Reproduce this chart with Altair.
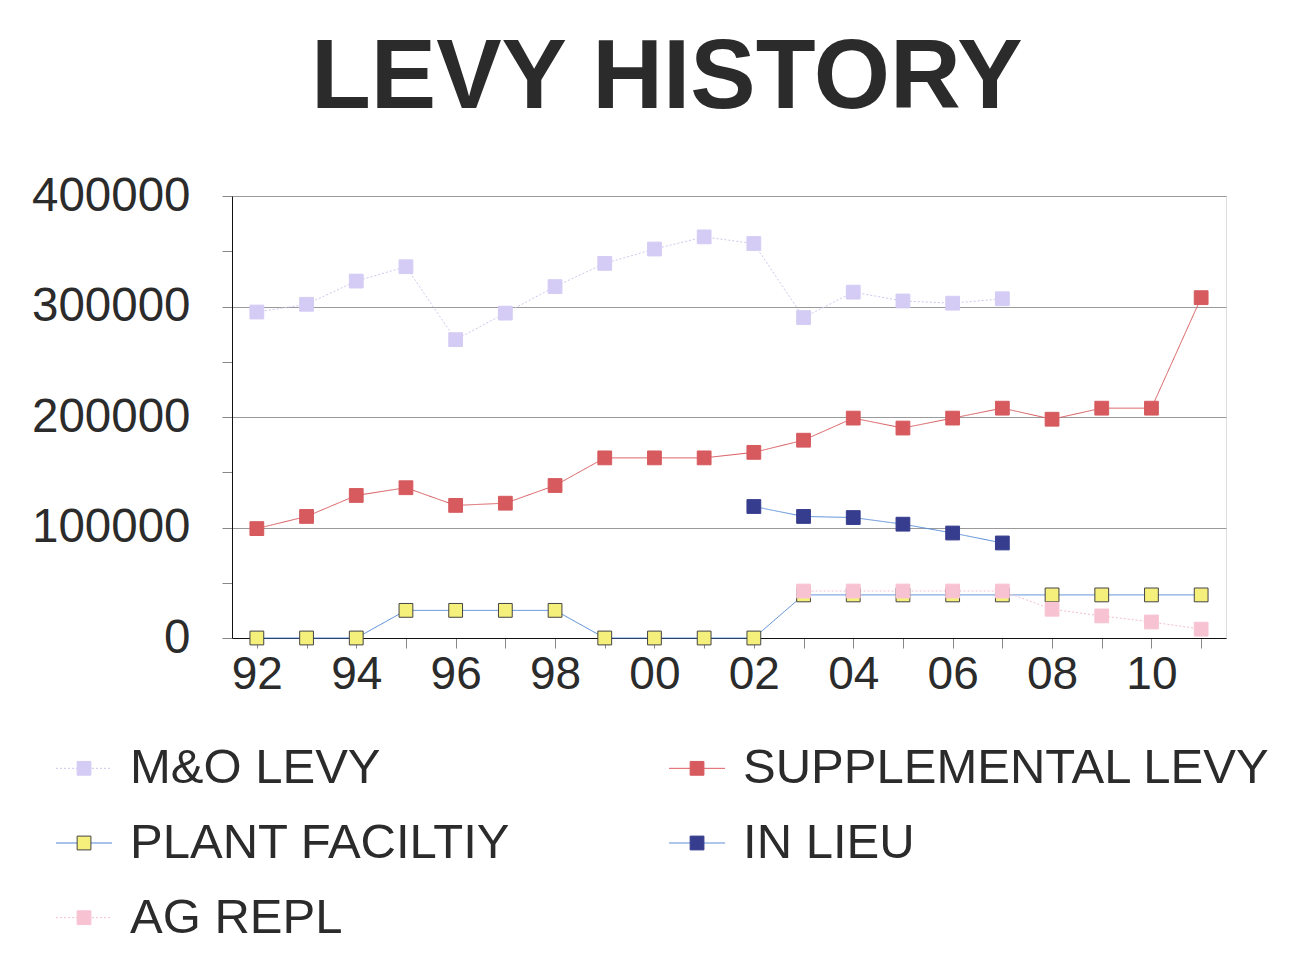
import altair as alt
import pandas as pd

years = list(range(1992, 2012))
series_names = ["M&O LEVY", "SUPPLEMENTAL LEVY", "PLANT FACILTIY", "IN LIEU", "AG REPL"]

mo_levy = [295000, 302000, 323000, 336000, 270000, 294000, 318000, 339000, 352000, 363000,
           357000, 290000, 313000, 305000, 303000, 307000, None, None, None, None]
supplemental = [99000, 110000, 129000, 136000, 120000, 122000, 138000, 163000, 163000, 163000,
                168000, 179000, 199000, 190000, 199000, 208000, 198000, 208000, 208000, 308000]
plant = [0, 0, 0, 25000, 25000, 25000, 25000, 0, 0, 0,
         0, 39000, 39000, 39000, 39000, 39000, 39000, 39000, 39000, 39000]
in_lieu = [None] * 10 + [119000, 110000, 109000, 103000, 95000, 86000, None, None, None, None]
ag_repl = [None] * 11 + [42500, 42500, 42500, 42500, 42500, 26000, 20000, 14500, 8000]

values = [mo_levy, supplemental, plant, in_lieu, ag_repl]

line_colors = ["#cfc6ee", "#d9585c", "#4f86d9", "#5b8fd8", "#f3bfd0"]
fill_colors = ["#d4ccf4", "#d65a5e", "#f5f07c", "#363d8e", "#f7c3d3"]
edge_colors = ["#d4ccf4", "#d65a5e", "#444444", "#363d8e", "#f7c3d3"]
dashes = [[2, 2], [1, 0], [1, 0], [1, 0], [2, 2]]

rows = []
for name, vals in zip(series_names, values):
    for y, v in zip(years, vals):
        if v is not None:
            rows.append({"series": name, "year": y, "value": v})
df = pd.DataFrame(rows)

FONT = "Liberation Sans"
TXT = "#2b2b2b"

color_scale = alt.Scale(domain=series_names, range=line_colors)
fill_scale = alt.Scale(domain=series_names, range=fill_colors)
stroke_scale = alt.Scale(domain=series_names, range=edge_colors)
dash_scale = alt.Scale(domain=series_names, range=dashes)

x_enc = alt.X(
    "year:Q",
    scale=alt.Scale(domain=[1991.5, 2011.5], nice=False, zero=False),
    axis=alt.Axis(
        values=years,
        labelExpr="datum.value % 2 == 0 ? substring(toString(datum.value), 2, 4) : ''",
        title=None, grid=False, tickSize=10, tickColor="#888888",
        labelFontSize=46, labelFont=FONT, labelColor=TXT, labelPadding=4,
        domainColor="#111111", labelFlush=False,
    ),
)
y_enc = alt.Y(
    "value:Q",
    scale=alt.Scale(domain=[0, 400000], nice=False),
    axis=alt.Axis(
        values=list(range(0, 400001, 50000)),
        labelExpr="datum.value % 100000 == 0 ? datum.value : ''",
        title=None, tickSize=10, tickColor="#888888",
        grid=True,
        gridOpacity={"condition": {"test": "datum.value % 100000 == 0 && datum.value > 0", "value": 1}, "value": 0},
        gridColor="#9a9a9a", gridWidth=1,
        labelFontSize=47.5, labelFont=FONT, labelColor=TXT, labelPadding=32,
        domainColor="#111111", labelFlush=False,
    ),
)

lines = alt.Chart(df).mark_line(strokeWidth=1).encode(
    x=x_enc, y=y_enc,
    color=alt.Color("series:N", scale=color_scale, legend=None),
    strokeDash=alt.StrokeDash("series:N", scale=dash_scale, legend=None),
    detail="series:N",
)
points = alt.Chart(df).mark_square(size=190, opacity=1, strokeWidth=1).encode(
    x=x_enc, y=y_enc,
    fill=alt.Fill("series:N", scale=fill_scale, legend=None),
    stroke=alt.Stroke("series:N", scale=stroke_scale, legend=None),
)

main = alt.layer(lines, points).properties(width=994, height=442)

# legend panel
leg_col = [0, 1, 0, 1, 0]
leg_row = [0, 0, 1, 1, 2]
leg = pd.DataFrame({"series": series_names, "col": leg_col, "row": leg_row})

lx = alt.X("col:Q", scale=alt.Scale(domain=[0.2414, 1.8629], nice=False, zero=False), axis=None)
ly = alt.Y("row:Q", scale=alt.Scale(domain=[-0.5, 2.5], nice=False, zero=False, reverse=True), axis=None)

leg_lines = alt.Chart(leg).mark_rule(strokeWidth=1, xOffset=-28, x2Offset=28).encode(
    x=lx, x2="col:Q", y=ly,
    color=alt.Color("series:N", scale=color_scale, legend=None),
    strokeDash=alt.StrokeDash("series:N", scale=dash_scale, legend=None),
)
leg_pts = alt.Chart(leg).mark_square(size=190, opacity=1, strokeWidth=1).encode(
    x=lx, y=ly,
    fill=alt.Fill("series:N", scale=fill_scale, legend=None),
    stroke=alt.Stroke("series:N", scale=stroke_scale, legend=None),
)
leg_text = alt.Chart(leg).mark_text(
    align="left", baseline="middle", dx=46, fontSize=49, font=FONT, color=TXT
).encode(x=lx, y=ly, text="series:N")

legend_panel = alt.layer(leg_lines, leg_pts, leg_text).properties(
    width=994, height=224, view=alt.ViewBackground(strokeOpacity=0)
)

chart = alt.vconcat(main, legend_panel, spacing=33).properties(
    title=alt.TitleParams(
        "LEVY HISTORY", fontSize=98, font=FONT, fontWeight="bold", color="#2b2b2b",
        anchor="middle", offset=43, dx=16,
    ),
    padding={"left": 22, "top": 21, "right": 5, "bottom": 5},
).configure_view(stroke="#111111", strokeWidth=1).configure(background="white")

chart.save("out.html", embed_options={"renderer": "svg", "actions": False})
